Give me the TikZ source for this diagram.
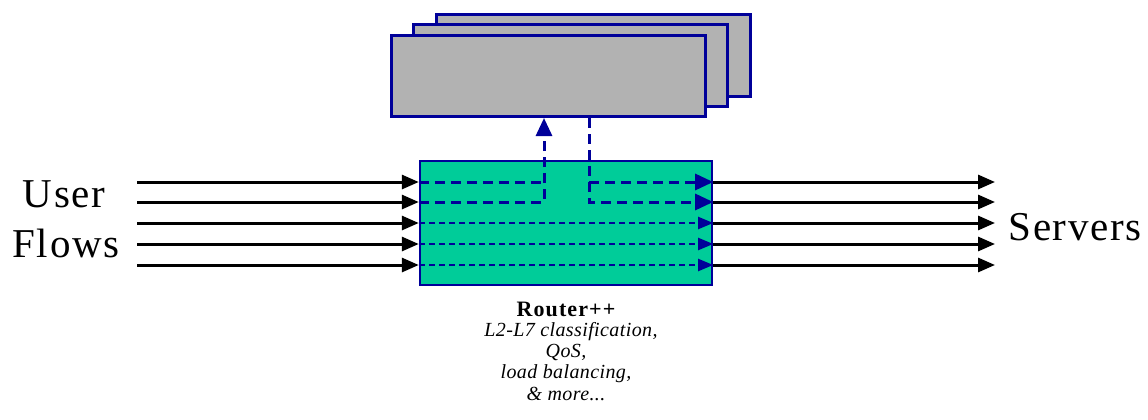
\documentclass[tikz,border=0pt]{standalone}
\usepackage{fontspec}
\setmainfont{Liberation Serif}
\usetikzlibrary{arrows.meta}
\definecolor{navy}{HTML}{000099}
\definecolor{boxgray}{HTML}{B2B2B2}
\definecolor{routergreen}{HTML}{00CC99}
\tikzset{
  graybox/.style={draw=navy, fill=boxgray, line width=3pt, minimum width=314pt, minimum height=81pt, inner sep=0pt},
  routerbox/.style={draw=navy, fill=routergreen, line width=2.4pt, minimum width=292pt, minimum height=124pt, inner sep=0pt},
  flow/.style={line width=3pt, black, -{Triangle[length=17pt,width=14pt]}},
  thickpath/.style={line width=3pt, navy, dash pattern=on 10pt off 6pt},
  thinpath/.style={line width=2pt, navy, dash pattern=on 6pt off 4pt},
  bigtip/.style={-{Triangle[length=18pt,width=16pt]}},
  smalltip/.style={-{Triangle[length=15pt,width=12pt]}},
  bigtext/.style={font=\fontsize{41}{44}\selectfont\addfontfeature{LetterSpace=4}, inner sep=0pt},
  desc/.style={font=\fontsize{20}{22}\selectfont\itshape\addfontfeature{LetterSpace=2}, inner sep=0pt, anchor=base},
}
\begin{document}
\begin{tikzpicture}[x=1pt,y=-1pt]
\useasboundingbox (0,0) rectangle (1148,420);
% stacked gray boxes
\node[graybox] (g3) at (593.5,55.5) {};
\node[graybox] (g2) at (570.5,65.5) {};
\node[graybox] (g1) at (548.5,76) {};
% router box
\node[routerbox] (rt) at (566,223) {};
% coordinates
\foreach \i/\y in {1/182,2/202,3/223,4/244,5/265}{
  \coordinate (in\i) at (137,\y);
  \coordinate (out\i) at (995,\y);
}
\coordinate (upx) at (544,0);
\coordinate (downx) at (589,0);
% incoming and outgoing flows
\foreach \i in {1,...,5}{
  \draw[flow] (in\i) -- (in\i -| rt.west);
  \draw[flow] (in\i -| rt.east) -- (out\i);
}
% inner thin dashed paths
\foreach \i in {3,4,5}{
  \draw[thinpath, smalltip] (in\i -| rt.west) -- (in\i -| rt.east);
}
% diverted flows
\draw[thickpath] (in1 -| rt.west) -- (in1 -| upx);
\draw[thickpath, bigtip] (in2 -| rt.west) -- (in2 -| upx) -- (upx |- g1.south);
\draw[thickpath, bigtip] (downx |- g1.south) -- (in2 -| downx) -- (in2 -| rt.east);
\draw[thickpath, bigtip] (in1 -| downx) -- (in1 -| rt.east);
% labels
\node[bigtext] (user) at (64,194) {User};
\node[bigtext] (flows) at (66,243) {Flows};
\node[bigtext] (servers) at (1075,227) {Servers};
\node[font=\fontsize{22}{24}\selectfont\bfseries\addfontfeature{LetterSpace=5}, inner sep=0pt, anchor=base] (rname) at (566,316.5) {Router++};
\node[desc] (d1) at (571,336) {L2-L7 classification,};
\node[desc] (d2) at (566,357) {QoS,};
\node[desc] (d3) at (566,378.5) {load balancing,};
\node[desc] (d4) at (566,400) {\& more...};
\end{tikzpicture}
\end{document}
